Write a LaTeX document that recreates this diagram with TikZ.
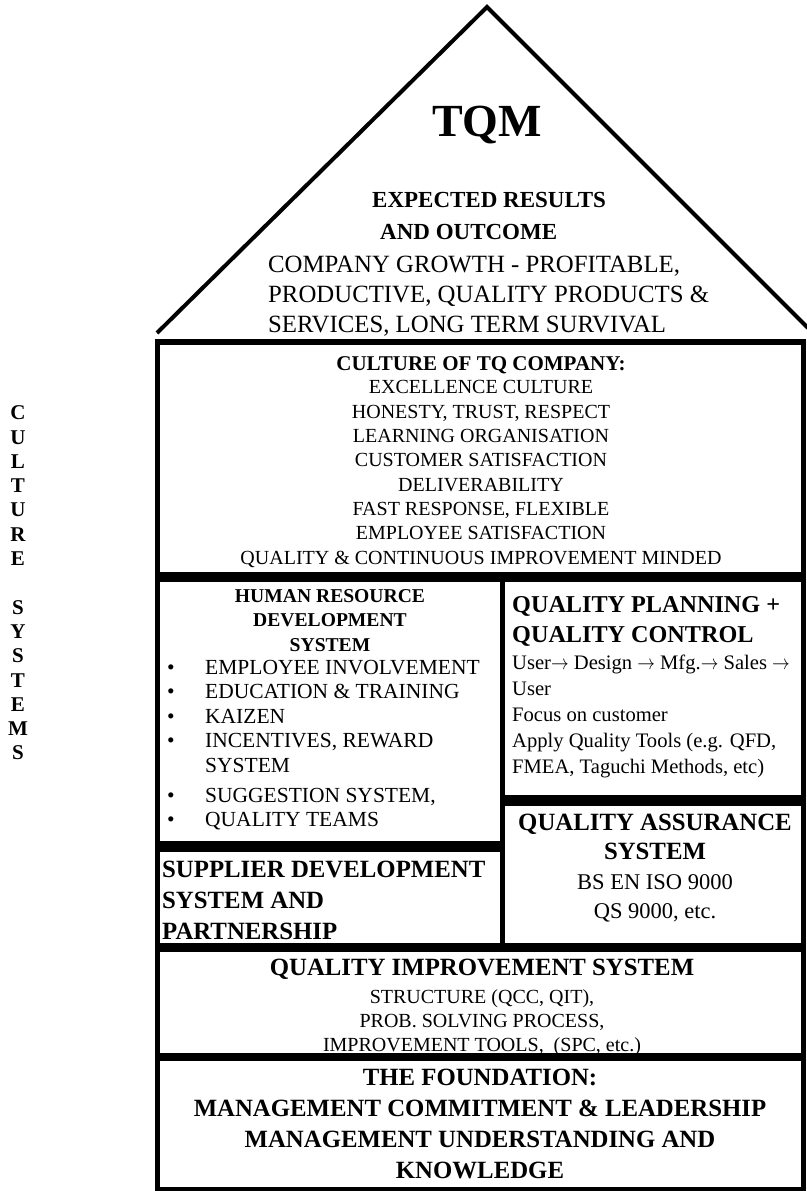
\documentclass[tikz,border=0pt]{standalone}
\usepackage{fontspec}
\setmainfont{Liberation Serif}
\usepackage{graphicx}
\usepackage{tikz}
\usetikzlibrary{positioning}

\tikzset{
  txt/.style={inner sep=0pt, align=center},
  txtLeft/.style={inner sep=0pt, align=left, anchor=west},
}
\newcommand\fsz[2]{\fontsize{#1}{#2}\selectfont}
\newcommand\hrItem[1]{\makebox[38pt][l]{\textbullet}#1}
\newcommand\qpArrow{\scalebox{0.85}[1]{$\rightarrow$}}

\begin{document}
\begin{tikzpicture}[x=1pt,y=-1pt]
  \useasboundingbox (0,0) rectangle (806,1191);

  % roof
  \coordinate (roofLeft) at (157,333);
  \coordinate (roofTop) at (487,7);
  \coordinate (roofRight) at (808,328);
  \draw[line width=4pt] (roofLeft) -- (roofTop) -- (roofRight);

  % walls and rooms
  \fill[black] (155,339) rectangle (806,1191);
  \foreach \xa/\ya/\xb/\yb in {160/345/801/572, 160/582/500/841, 160/852/500/943,
      505/582/801/795, 505/806/801/943, 160/952/801/1053, 160/1061/801/1187}{
    \fill[white] (\xa,\ya) rectangle (\xb,\yb);
  }

  \node[txt, font=\bfseries\fsz{46}{50}] (tqm) at (487,125) {TQM};
  \node[txtLeft, font=\bfseries\fsz{23}{32}] (expected) at (372,216)
    {EXPECTED RESULTS\\\hspace*{8pt}AND OUTCOME};
  \node[txtLeft, font=\fsz{24.8}{30}] (growth) at (268,296)
    {COMPANY GROWTH - PROFITABLE,\\PRODUCTIVE, QUALITY PRODUCTS \&\\SERVICES, LONG TERM SURVIVAL};

  \node[txt, font=\fsz{20}{24.3}] (culture) at (481,462)
    {{\bfseries\fsz{21}{24.3}CULTURE OF TQ COMPANY:}\\[-1pt]
     EXCELLENCE CULTURE\\HONESTY, TRUST, RESPECT\\LEARNING ORGANISATION\\
     CUSTOMER SATISFACTION\\DELIVERABILITY\\FAST RESPONSE, FLEXIBLE\\
     EMPLOYEE SATISFACTION\\QUALITY \& CONTINUOUS IMPROVEMENT MINDED};

  \node[txt, font=\bfseries\fsz{19.6}{24.5}] (hrHead) at (330,620.5)
    {HUMAN RESOURCE\\DEVELOPMENT\\SYSTEM};
  \node[txtLeft, font=\fsz{21.5}{24.5}] (hrList) at (167,745)
    {\hrItem{EMPLOYEE INVOLVEMENT}\\\hrItem{EDUCATION \& TRAINING}\\\hrItem{KAIZEN}\\
     \hrItem{INCENTIVES, REWARD}\\\hspace*{38pt}SYSTEM\\[5.5pt]
     \hrItem{SUGGESTION SYSTEM,}\\\hrItem{QUALITY TEAMS}};

  \node[txtLeft, font=\bfseries\fsz{24.2}{30}] (qpHead) at (512,621)
    {QUALITY PLANNING +\\QUALITY CONTROL};
  \node[txtLeft, font=\fsz{20.6}{26}] (qpBody) at (512,716)
    {User\qpArrow{} Design \qpArrow{} Mfg.\qpArrow{} Sales \qpArrow\\User\\Focus on customer\\
     Apply Quality Tools (e.g. QFD,\\FMEA, Taguchi Methods, etc)};

  \node[txt, font=\fsz{22.5}{29.5}] (qa) at (655,868)
    {{\bfseries\fsz{24.8}{29.5}QUALITY ASSURANCE}\\{\bfseries\fsz{24.8}{29.5}SYSTEM}\\
     BS EN ISO 9000\\QS 9000, etc.};

  \node[txtLeft, font=\bfseries\fsz{24.8}{31}] (supplier) at (162,900)
    {SUPPLIER DEVELOPMENT\\SYSTEM AND\\PARTNERSHIP};

  \node[txt, font=\fsz{20}{24}] (qis) at (482,1007)
    {{\bfseries\fsz{24.8}{24}QUALITY IMPROVEMENT SYSTEM}\\[4pt]
     STRUCTURE (QCC, QIT),\\PROB. SOLVING PROCESS,\\IMPROVEMENT TOOLS,\ \ (SPC, etc.)};

  \node[txt, font=\bfseries\fsz{24.8}{31}] (foundation) at (480,1124)
    {THE FOUNDATION:\\MANAGEMENT COMMITMENT \& LEADERSHIP\\
     MANAGEMENT UNDERSTANDING AND\\KNOWLEDGE};

  % side label
  \node[txt, font=\bfseries\fsz{21}{24.3}] (sideLabel) at (18,583)
    {C\\U\\L\\T\\U\\R\\E\\\mbox{}\\S\\Y\\S\\T\\E\\M\\S};
\end{tikzpicture}
\end{document}
